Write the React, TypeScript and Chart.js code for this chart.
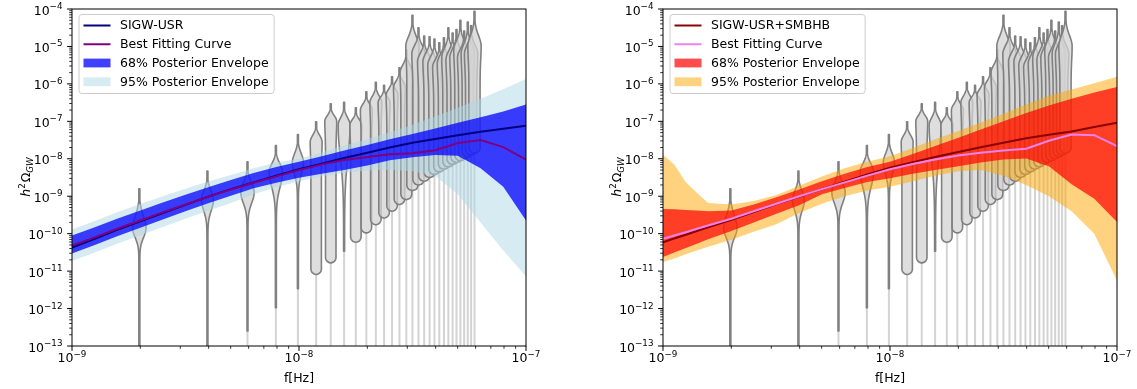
import React, { useEffect, useRef } from "react";
import { Chart, registerables } from "chart.js";
Chart.register(...registerables);

// ---------- data (frequencies in Hz, amplitudes as log10 h^2 Omega_GW) ----------
const FREQ_LEFT = [1.0e-9, 1.26e-9, 1.58e-9, 2.0e-9, 2.51e-9, 3.16e-9, 3.98e-9, 5.01e-9, 6.31e-9, 7.94e-9, 1.0e-8, 1.26e-8, 1.58e-8, 2.0e-8, 2.51e-8, 3.16e-8, 3.98e-8, 5.01e-8, 6.31e-8, 7.94e-8, 1.0e-7];
const SIGW_USR = [-10.37, -10.14, -9.9, -9.67, -9.45, -9.23, -9.01, -8.81, -8.63, -8.45, -8.28, -8.13, -7.98, -7.84, -7.7, -7.57, -7.47, -7.37, -7.28, -7.2, -7.12];
const BEST_FIT_LEFT = [-10.32, -10.1, -9.87, -9.65, -9.43, -9.22, -9.01, -8.82, -8.64, -8.47, -8.3, -8.15, -8.03, -7.95, -7.88, -7.85, -7.77, -7.58, -7.5, -7.69, -8.02];
const UPPER68_LEFT = [-10.05, -9.83, -9.6, -9.38, -9.17, -8.96, -8.76, -8.57, -8.38, -8.22, -8.08, -7.93, -7.78, -7.63, -7.48, -7.34, -7.19, -7.04, -6.89, -6.74, -6.55];
const LOWER68_LEFT = [-10.53, -10.3, -10.07, -9.84, -9.62, -9.4, -9.19, -8.99, -8.79, -8.64, -8.51, -8.4, -8.3, -8.18, -8.04, -7.96, -7.9, -7.92, -8.25, -8.75, -9.65];
const UPPER95_LEFT = [-9.89, -9.66, -9.43, -9.21, -9.0, -8.8, -8.61, -8.43, -8.25, -8.1, -8.0, -7.83, -7.65, -7.47, -7.29, -7.09, -6.87, -6.64, -6.4, -6.14, -5.87];
const LOWER95_LEFT = [-10.73, -10.5, -10.27, -10.04, -9.82, -9.6, -9.39, -9.18, -8.95, -8.76, -8.6, -8.47, -8.37, -8.31, -8.29, -8.33, -8.45, -8.95, -9.7, -10.45, -11.14];

const FREQ_RIGHT = [1.0e-9, 1.12e-9, 1.26e-9, 1.41e-9, 1.58e-9, 2.0e-9, 2.51e-9, 3.16e-9, 3.98e-9, 5.01e-9, 6.31e-9, 7.94e-9, 1.0e-8, 1.26e-8, 1.58e-8, 2.0e-8, 2.51e-8, 3.16e-8, 3.98e-8, 5.01e-8, 6.31e-8, 7.94e-8, 1.0e-7];
const SIGW_USR_SMBHB = [-10.23, -10.13, -10.03, -9.93, -9.83, -9.63, -9.42, -9.21, -9.01, -8.81, -8.61, -8.42, -8.24, -8.09, -7.95, -7.82, -7.69, -7.57, -7.45, -7.36, -7.27, -7.15, -7.04];
const BEST_FIT_RIGHT = [-10.14, -10.05, -9.96, -9.87, -9.78, -9.6, -9.4, -9.2, -9.0, -8.81, -8.63, -8.45, -8.28, -8.14, -8.02, -7.91, -7.84, -7.78, -7.73, -7.52, -7.35, -7.37, -7.66];
const UPPER68_RIGHT = [-9.34, -9.35, -9.37, -9.38, -9.4, -9.38, -9.22, -9.03, -8.82, -8.6, -8.4, -8.22, -8.08, -7.87, -7.66, -7.44, -7.22, -7.0, -6.78, -6.58, -6.4, -6.23, -6.08];
const LOWER68_RIGHT = [-10.62, -10.5, -10.38, -10.27, -10.15, -9.93, -9.7, -9.47, -9.24, -8.95, -8.78, -8.62, -8.52, -8.4, -8.3, -8.2, -8.1, -8.02, -7.99, -8.2, -8.68, -9.07, -9.69];
const UPPER95_RIGHT = [-7.89, -8.15, -8.63, -8.91, -9.18, -9.22, -9.13, -8.97, -8.72, -8.47, -8.25, -8.08, -7.93, -7.71, -7.48, -7.26, -7.03, -6.8, -6.55, -6.32, -6.15, -5.98, -5.81];
const LOWER95_RIGHT = [-10.76, -10.66, -10.55, -10.45, -10.35, -10.16, -9.95, -9.75, -9.45, -9.2, -9.0, -8.85, -8.75, -8.6, -8.45, -8.33, -8.3, -8.45, -8.7, -9.0, -9.4, -10.0, -11.25];

// NANOGrav-like violins (one per frequency bin)
const VIOLIN_FREQ = [1.98e-9, 3.95e-9, 5.93e-9, 7.91e-9, 9.89e-9, 1.19e-8, 1.38e-8, 1.58e-8, 1.78e-8, 1.98e-8, 2.18e-8, 2.37e-8, 2.57e-8, 2.77e-8, 2.97e-8, 3.16e-8, 3.36e-8, 3.56e-8, 3.76e-8, 3.95e-8, 4.15e-8, 4.35e-8, 4.55e-8, 4.75e-8, 4.94e-8, 5.14e-8, 5.34e-8, 5.54e-8, 5.73e-8, 5.93e-8];
const VIOLIN_TOP = [-8.8, -8.33, -8.08, -7.65, -7.35, -7.01, -6.53, -6.49, -6.64, -6.21, -5.96, -6.04, -5.81, -5.57, -5.08, -4.17, -4.5, -4.72, -4.74, -4.8, -4.9, -4.77, -4.5, -4.64, -4.55, -4.3, -4.59, -4.35, -4.45, -4.06];
const VIOLIN_PEAK = [-9.85, -9.1, -8.9, -8.35, -8.1, -7.55, -7.0, -7.1, -7.1, -6.7, -6.5, -6.5, -6.3, -6.1, -5.7, -5.0, -5.2, -5.4, -5.4, -5.5, -5.55, -5.45, -5.3, -5.35, -5.3, -5.1, -5.3, -5.2, -5.2, -5.0];
const VIOLIN_BOTTOM = [-13.5, -13.5, -12.6, -11.98, -11.47, -11.09, -10.78, -10.47, -10.23, -9.98, -9.76, -9.58, -9.4, -9.22, -9.09, -8.85, -8.7, -8.6, -8.5, -8.42, -8.35, -8.28, -8.22, -8.15, -8.1, -8.05, -8.0, -7.95, -7.9, -7.85];
const VIOLIN_PEAK_DENSITY = [0.95, 0.85, 0.95, 0.95, 0.8, 0.85, 0.85, 0.85, 0.85, 0.85, 0.85, 0.85, 0.85, 0.85, 0.9, 0.95, 0.95, 0.95, 0.95, 0.95, 0.95, 0.95, 0.95, 0.95, 0.95, 0.95, 0.95, 0.95, 0.95, 0.95];
const VIOLIN_BODY_DENSITY = [0.07, 0.07, 0.07, 0.07, 0.07, 0.75, 0.75, 0.07, 0.75, 0.75, 0.75, 0.75, 0.75, 0.75, 0.78, 0.8, 0.8, 0.8, 0.8, 0.8, 0.8, 0.8, 0.8, 0.8, 0.8, 0.8, 0.8, 0.8, 0.8, 0.8];
const VIOLIN_SPREAD = [0.25, 0.28, 0.28, 0.4, 0.3, 0.3, 0.3, 0.85, 0.3, 0.3, 0.3, 0.3, 0.3, 0.3, 0.3, 0.35, 0.35, 0.35, 0.35, 0.35, 0.35, 0.35, 0.35, 0.35, 0.35, 0.35, 0.35, 0.35, 0.35, 0.35];

const Y_TICK_EXPONENTS = [-13, -12, -11, -10, -9, -8, -7, -6, -5, -4];
const X_TICK_EXPONENTS = [-9, -8, -7];
const MINOR_MULTIPLIERS = [2, 3, 4, 5, 6, 7, 8, 9];

const LABELS_LEFT = ["SIGW-USR", "Best Fitting Curve", "68% Posterior Envelope", "95% Posterior Envelope"];
const LABELS_RIGHT = ["SIGW-USR+SMBHB", "Best Fitting Curve", "68% Posterior Envelope", "95% Posterior Envelope"];

// ---------- styling ----------
const FONT = '"DejaVu Sans", "Liberation Sans", sans-serif';
const FS = 12.5;
const SUP = 8.75;
const VIOLIN_HALF_PX = 7;

type PanelSpec = {
  left: number;
  width: number;
  pad: { left: number; right: number; top: number; bottom: number };
  freq: number[];
  main: number[];
  best: number[];
  u68: number[];
  l68: number[];
  u95: number[];
  l95: number[];
  labels: string[];
  mainColor: string;
  bestColor: string;
  c68: string;
  c95: string;
};

const PANELS: PanelSpec[] = [
  {
    left: 0, width: 568, pad: { left: 72, right: 42, top: 9, bottom: 43 },
    freq: FREQ_LEFT, main: SIGW_USR, best: BEST_FIT_LEFT,
    u68: UPPER68_LEFT, l68: LOWER68_LEFT, u95: UPPER95_LEFT, l95: LOWER95_LEFT,
    labels: LABELS_LEFT, mainColor: "#000080", bestColor: "#800080",
    c68: "rgba(0,0,255,0.75)", c95: "rgba(173,216,230,0.5)",
  },
  {
    left: 568, width: 569, pad: { left: 95, right: 20, top: 9, bottom: 43 },
    freq: FREQ_RIGHT, main: SIGW_USR_SMBHB, best: BEST_FIT_RIGHT,
    u68: UPPER68_RIGHT, l68: LOWER68_RIGHT, u95: UPPER95_RIGHT, l95: LOWER95_RIGHT,
    labels: LABELS_RIGHT, mainColor: "#8b0000", bestColor: "#ee82ee",
    c68: "rgba(255,0,0,0.7)", c95: "rgba(255,165,0,0.5)",
  },
];

const pts = (fs: number[], vs: number[]) => fs.map((f, i) => ({ x: f, y: Math.pow(10, vs[i]) }));

function violinHalf(i: number, v: number) {
  const T = VIOLIN_TOP[i], P = VIOLIN_PEAK[i], B = VIOLIN_BOTTOM[i];
  const W = VIOLIN_PEAK_DENSITY[i], Wb = VIOLIN_BODY_DENSITY[i], sd = VIOLIN_SPREAD[i];
  const thin = 0.07;
  let w: number;
  if (v >= P) {
    const s = (T - P) / 3.2;
    w = W * Math.exp(-0.5 * ((v - P) / s) ** 2);
  } else {
    w = Wb + (W - Wb) * Math.exp(-0.5 * ((v - P) / sd) ** 2);
  }
  w = Math.max(w, thin);
  const r = 0.15;
  if (Wb > 0.2 && v < B + r) {
    const d = (B + r - v) / r;
    w = Math.max(thin, w * Math.sqrt(Math.max(0, 1 - d * d)));
  }
  return w;
}

function drawPow(ctx: CanvasRenderingContext2D, exp: number, x: number, baseline: number, align: "right" | "center") {
  const base = "10";
  const ex = "\u2212" + Math.abs(exp);
  ctx.font = `${FS}px ${FONT}`;
  const wb = ctx.measureText(base).width;
  ctx.font = `${SUP}px ${FONT}`;
  const we = ctx.measureText(ex).width;
  const total = wb + we;
  const start = align === "right" ? x - total : x - total / 2;
  ctx.textAlign = "left";
  ctx.textBaseline = "alphabetic";
  ctx.font = `${FS}px ${FONT}`;
  ctx.fillText(base, start, baseline);
  ctx.font = `${SUP}px ${FONT}`;
  ctx.fillText(ex, start + wb, baseline - 5.5);
}

function makeOverlay(p: PanelSpec) {
  return {
    id: "overlay",
    beforeDatasetsDraw(chart: any) {
      const { ctx, chartArea: a, scales } = chart;
      const xs = scales.x, ys = scales.y;
      ctx.save();
      ctx.beginPath();
      ctx.rect(a.left, a.top, a.right - a.left, a.bottom - a.top);
      ctx.clip();
      ctx.strokeStyle = "#d3d3d3";
      ctx.lineWidth = 2;
      VIOLIN_FREQ.forEach((f, i) => {
        const x = xs.getPixelForValue(f);
        const yb = ys.getPixelForValue(Math.pow(10, VIOLIN_BOTTOM[i]));
        ctx.beginPath();
        ctx.moveTo(x, yb);
        ctx.lineTo(x, a.bottom + 2);
        ctx.stroke();
      });
      VIOLIN_FREQ.forEach((f, i) => {
        const x = xs.getPixelForValue(f);
        const T = VIOLIN_TOP[i], B = VIOLIN_BOTTOM[i];
        const n = Math.ceil((T - B) / 0.02);
        const prof: [number, number][] = [];
        for (let k = 0; k <= n; k++) {
          const v = T - ((T - B) * k) / n;
          prof.push([ys.getPixelForValue(Math.pow(10, v)), violinHalf(i, v) * VIOLIN_HALF_PX]);
        }
        ctx.beginPath();
        prof.forEach(([py, w], k) => (k ? ctx.lineTo(x + w, py) : ctx.moveTo(x + w, py)));
        for (let k = prof.length - 1; k >= 0; k--) ctx.lineTo(x - prof[k][1], prof[k][0]);
        ctx.closePath();
        ctx.fillStyle = "rgba(211,211,211,0.75)";
        ctx.fill();
        ctx.strokeStyle = "#808080";
        ctx.lineWidth = 1.6;
        ctx.lineJoin = "round";
        ctx.stroke();
      });
      ctx.restore();
    },
    afterDraw(chart: any) {
      const { ctx, chartArea: a, scales } = chart;
      const xs = scales.x, ys = scales.y;
      ctx.save();
      // frame
      ctx.strokeStyle = "#000";
      ctx.lineWidth = 1;
      ctx.strokeRect(a.left, a.top, a.right - a.left, a.bottom - a.top);
      // y ticks
      Y_TICK_EXPONENTS.forEach((e) => {
        const y = ys.getPixelForValue(Math.pow(10, e));
        ctx.lineWidth = 1;
        ctx.beginPath();
        ctx.moveTo(a.left, y);
        ctx.lineTo(a.left - 4.9, y);
        ctx.stroke();
        if (e < -4) {
          ctx.lineWidth = 0.8;
          MINOR_MULTIPLIERS.forEach((m) => {
            const ym = ys.getPixelForValue(m * Math.pow(10, e));
            ctx.beginPath();
            ctx.moveTo(a.left, ym);
            ctx.lineTo(a.left - 2.8, ym);
            ctx.stroke();
          });
        }
        ctx.fillStyle = "#000";
        drawPow(ctx, e, a.left - 9.5, y + 5.5, "right");
      });
      // x ticks
      X_TICK_EXPONENTS.forEach((e) => {
        const x = xs.getPixelForValue(Math.pow(10, e));
        ctx.lineWidth = 1;
        ctx.beginPath();
        ctx.moveTo(x, a.bottom);
        ctx.lineTo(x, a.bottom + 4.9);
        ctx.stroke();
        if (e < -7) {
          ctx.lineWidth = 0.8;
          MINOR_MULTIPLIERS.forEach((m) => {
            const xm = xs.getPixelForValue(m * Math.pow(10, e));
            ctx.beginPath();
            ctx.moveTo(xm, a.bottom);
            ctx.lineTo(xm, a.bottom + 2.8);
            ctx.stroke();
          });
        }
        ctx.fillStyle = "#000";
        drawPow(ctx, e, x, a.bottom + 16, "center");
      });
      // x title
      ctx.fillStyle = "#000";
      ctx.font = `${FS}px ${FONT}`;
      ctx.textAlign = "center";
      ctx.textBaseline = "alphabetic";
      ctx.fillText("f[Hz]", (a.left + a.right) / 2, a.bottom + 35.5);
      // y title: h^2 Omega_GW
      ctx.save();
      ctx.translate(a.left - 42, (a.top + a.bottom) / 2);
      ctx.rotate(-Math.PI / 2);
      const parts = [
        { t: "h", f: `italic ${FS}px ${FONT}`, dy: 0 },
        { t: "2", f: `${SUP}px ${FONT}`, dy: -5.5 },
        { t: "\u03A9", f: `${FS}px ${FONT}`, dy: 0 },
        { t: "GW", f: `italic ${SUP}px ${FONT}`, dy: 2.6 },
      ];
      let tw = 0;
      parts.forEach((q) => { ctx.font = q.f; tw += ctx.measureText(q.t).width; });
      let cx = -tw / 2;
      ctx.textAlign = "left";
      parts.forEach((q) => {
        ctx.font = q.f;
        ctx.fillText(q.t, cx, q.dy);
        cx += ctx.measureText(q.t).width + (q.t === "2" ? 1 : 0);
      });
      ctx.restore();
      // legend
      ctx.font = `${FS}px ${FONT}`;
      const maxW = Math.max(...p.labels.map((l) => ctx.measureText(l).width));
      const bx = a.left + 7, by = a.top + 5.5;
      const bw = 41 + maxW + 5.5, bh = 79;
      ctx.beginPath();
      ctx.roundRect(bx, by, bw, bh, 3);
      ctx.fillStyle = "rgba(255,255,255,0.8)";
      ctx.fill();
      ctx.strokeStyle = "#cccccc";
      ctx.lineWidth = 1;
      ctx.stroke();
      const colors = [p.mainColor, p.bestColor, p.c68, p.c95];
      p.labels.forEach((lab, i) => {
        const cy = by + 11 + i * 18.75;
        const hx = bx + 4.5;
        if (i < 2) {
          ctx.strokeStyle = colors[i];
          ctx.lineWidth = 2;
          ctx.beginPath();
          ctx.moveTo(hx, cy);
          ctx.lineTo(hx + 27, cy);
          ctx.stroke();
        } else {
          ctx.fillStyle = colors[i];
          ctx.fillRect(hx, cy - 4.4, 27, 8.8);
        }
        ctx.fillStyle = "#000";
        ctx.textAlign = "left";
        ctx.textBaseline = "middle";
        ctx.font = `${FS}px ${FONT}`;
        ctx.fillText(lab, bx + 41, cy + 0.5);
      });
      ctx.restore();
    },
  };
}

function Panel({ spec }: { spec: PanelSpec }) {
  const ref = useRef<HTMLCanvasElement>(null);
  useEffect(() => {
    const p = spec;
    const line = (data: any, color: string) => ({
      data, borderColor: color, borderWidth: 2, pointRadius: 0, fill: false, tension: 0,
    });
    const band = (data: any, color: string | null) => ({
      data, borderColor: "rgba(0,0,0,0)", borderWidth: 0, pointRadius: 0,
      backgroundColor: color || "rgba(0,0,0,0)", fill: color ? "+1" : false, tension: 0,
    });
    const chart = new Chart(ref.current as HTMLCanvasElement, {
      type: "line",
      data: {
        datasets: [
          { label: p.labels[1], ...line(pts(p.freq, p.best), p.bestColor) },
          { label: p.labels[0], ...line(pts(p.freq, p.main), p.mainColor) },
          { label: p.labels[2], ...band(pts(p.freq, p.u68), p.c68) },
          { label: "lower68", ...band(pts(p.freq, p.l68), null) },
          { label: p.labels[3], ...band(pts(p.freq, p.u95), p.c95) },
          { label: "lower95", ...band(pts(p.freq, p.l95), null) },
        ] as any,
      },
      options: {
        animation: false,
        responsive: false,
        devicePixelRatio: 1,
        layout: { padding: p.pad },
        plugins: { legend: { display: false }, tooltip: { enabled: false } },
        scales: {
          x: { type: "logarithmic", min: 1e-9, max: 1e-7, display: false },
          y: { type: "logarithmic", min: 1e-13, max: 1e-4, display: false },
        },
      } as any,
      plugins: [makeOverlay(p)],
    });
    return () => chart.destroy();
  }, [spec]);
  return (
    <canvas
      ref={ref}
      width={spec.width}
      height={389}
      style={{ position: "absolute", left: spec.left, top: 0, width: spec.width, height: 389 }}
    />
  );
}

export default function App() {
  return (
    <div style={{ position: "absolute", left: 0, top: 0, width: 1137, height: 389, background: "#fff" }}>
      {PANELS.map((p, i) => (
        <Panel key={i} spec={p} />
      ))}
    </div>
  );
}
